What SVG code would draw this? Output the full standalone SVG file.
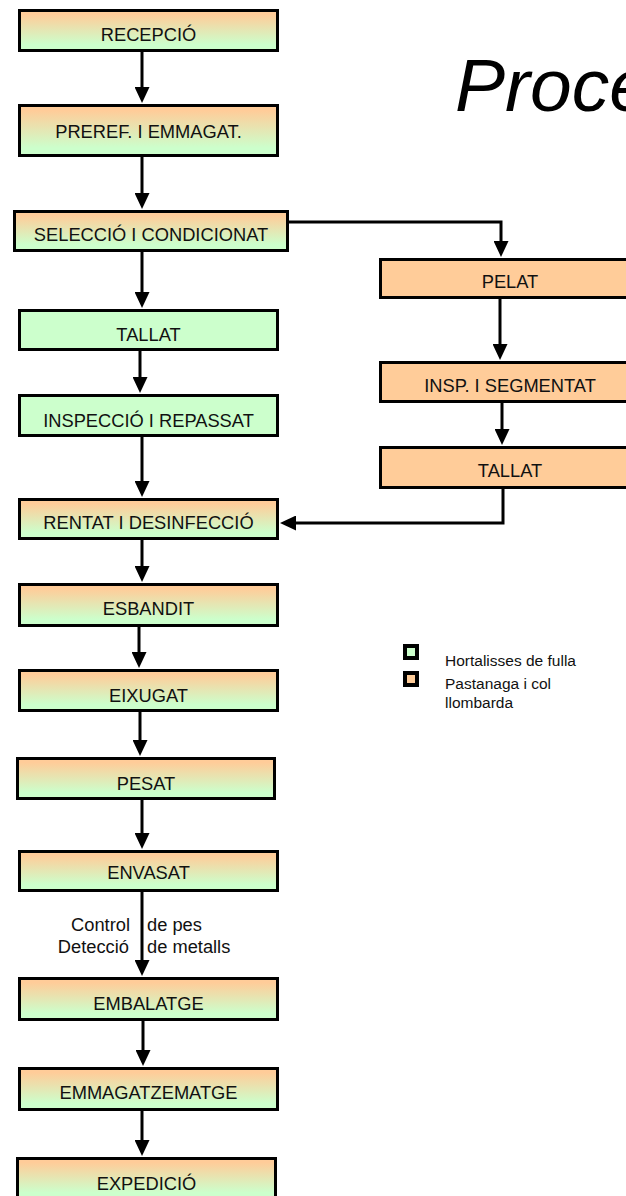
<svg xmlns="http://www.w3.org/2000/svg" width="626" height="1196" viewBox="0 0 626 1196">
<defs>
<linearGradient id="mix" x1="0" y1="0" x2="0" y2="1">
<stop offset="0.1" stop-color="#ffcc99"/>
<stop offset="0.85" stop-color="#ccffcc"/>
</linearGradient>
<marker id="ah" markerUnits="userSpaceOnUse" markerWidth="16" markerHeight="15" refX="6" refY="7.5" orient="auto">
<path d="M0,0 L16,7.5 L0,15 z" fill="#000"/>
</marker>
<style>
.box{stroke:#000;stroke-width:3}
.mix{fill:url(#mix)}
.grn{fill:#ccffcc}
.org{fill:#ffcc99}
.lbl{font-family:"Liberation Sans",Arial,sans-serif;font-size:18.3px;fill:#111;text-anchor:middle}
.note{font-family:"Liberation Sans",Arial,sans-serif;font-size:18.3px;fill:#111}
.leg{font-family:"Liberation Sans",Arial,sans-serif;font-size:15.5px;fill:#111}
.con{fill:none;stroke:#000;stroke-width:3;marker-end:url(#ah)}
</style>
</defs>
<rect width="626" height="1196" fill="#fff"/>
<text x="455" y="111" font-family="'Liberation Sans',Arial,sans-serif" font-style="italic" font-size="75" fill="#000">Proce</text>

<g id="connectors">
<line class="con" x1="142" y1="52" x2="142" y2="93"/>
<line class="con" x1="142" y1="157" x2="142" y2="199"/>
<line class="con" x1="142" y1="252" x2="142" y2="298"/>
<line class="con" x1="140" y1="351" x2="140" y2="383"/>
<line class="con" x1="142" y1="437" x2="142" y2="487"/>
<line class="con" x1="142" y1="540" x2="142" y2="572"/>
<line class="con" x1="139" y1="627" x2="139" y2="658"/>
<line class="con" x1="140" y1="712" x2="140" y2="746"/>
<line class="con" x1="142" y1="800" x2="142" y2="839"/>
<line class="con" x1="142" y1="892" x2="142" y2="966"/>
<line class="con" x1="143" y1="1021" x2="143" y2="1056"/>
<line class="con" x1="142" y1="1111" x2="142" y2="1146"/>
<polyline class="con" points="289,222 501,222 501,247"/>
<line class="con" x1="500" y1="299" x2="500" y2="350"/>
<line class="con" x1="502" y1="403" x2="502" y2="435"/>
<polyline class="con" points="503,489 503,523 290,523"/>
<text class="note" x="130" y="931" text-anchor="end">Control</text>
<text class="note" x="129" y="953" text-anchor="end">Detecció</text>
<text class="note" x="147" y="931">de pes</text>
<text class="note" x="147" y="953">de metalls</text>
</g>

<g id="n-recepcio"><rect class="box mix" x="19.5" y="10.5" width="258" height="40"/><text class="lbl" x="148.5" y="41">RECEPCIÓ</text></g>
<g id="n-preref"><rect class="box mix" x="19.5" y="105.5" width="258" height="50"/><text class="lbl" x="148.5" y="138">PREREF. I EMMAGAT.</text></g>
<g id="n-seleccio"><rect class="box mix" x="14.5" y="211.5" width="273" height="39"/><text class="lbl" x="151" y="241">SELECCIÓ I CONDICIONAT</text></g>
<g id="n-tallat-l"><rect class="box grn" x="19.5" y="310.5" width="258" height="39"/><text class="lbl" x="148.5" y="341">TALLAT</text></g>
<g id="n-inspeccio"><rect class="box grn" x="19.5" y="395.5" width="258" height="40"/><text class="lbl" x="148.5" y="427">INSPECCIÓ I REPASSAT</text></g>
<g id="n-rentat"><rect class="box mix" x="19.5" y="499.5" width="258" height="39"/><text class="lbl" x="148.5" y="529">RENTAT I DESINFECCIÓ</text></g>
<g id="n-esbandit"><rect class="box mix" x="19.5" y="584.5" width="258" height="41"/><text class="lbl" x="148.5" y="615">ESBANDIT</text></g>
<g id="n-eixugat"><rect class="box mix" x="19.5" y="670.5" width="258" height="40"/><text class="lbl" x="148.5" y="702">EIXUGAT</text></g>
<g id="n-pesat"><rect class="box mix" x="17.5" y="758.5" width="257" height="40"/><text class="lbl" x="146" y="790">PESAT</text></g>
<g id="n-envasat"><rect class="box mix" x="19.5" y="851.5" width="258" height="39"/><text class="lbl" x="148.5" y="879">ENVASAT</text></g>
<g id="n-embalatge"><rect class="box mix" x="19.5" y="978.5" width="258" height="41"/><text class="lbl" x="148.5" y="1010">EMBALATGE</text></g>
<g id="n-emmagatzematge"><rect class="box mix" x="19.5" y="1068.5" width="258" height="41"/><text class="lbl" x="148.5" y="1099">EMMAGATZEMATGE</text></g>
<g id="n-expedicio"><rect class="box mix" x="17.5" y="1158.5" width="258" height="40"/><text class="lbl" x="146.5" y="1190">EXPEDICIÓ</text></g>

<g id="n-pelat"><rect class="box org" x="380.5" y="259.5" width="259" height="38"/><text class="lbl" x="510" y="288">PELAT</text></g>
<g id="n-insp-seg"><rect class="box org" x="380.5" y="362.5" width="259" height="39"/><text class="lbl" x="510" y="392">INSP. I SEGMENTAT</text></g>
<g id="n-tallat-r"><rect class="box org" x="380.5" y="447.5" width="259" height="40"/><text class="lbl" x="510" y="477">TALLAT</text></g>

<g id="legend">
<rect x="405" y="646" width="12" height="12" fill="#ccffcc" stroke="#000" stroke-width="4"/>
<rect x="405" y="673" width="12" height="12" fill="#ffcc99" stroke="#000" stroke-width="4"/>
<text class="leg" x="445" y="666">Hortalisses de fulla</text>
<text class="leg" x="445" y="689">Pastanaga i col</text>
<text class="leg" x="445" y="708">llombarda</text>
</g>
</svg>
